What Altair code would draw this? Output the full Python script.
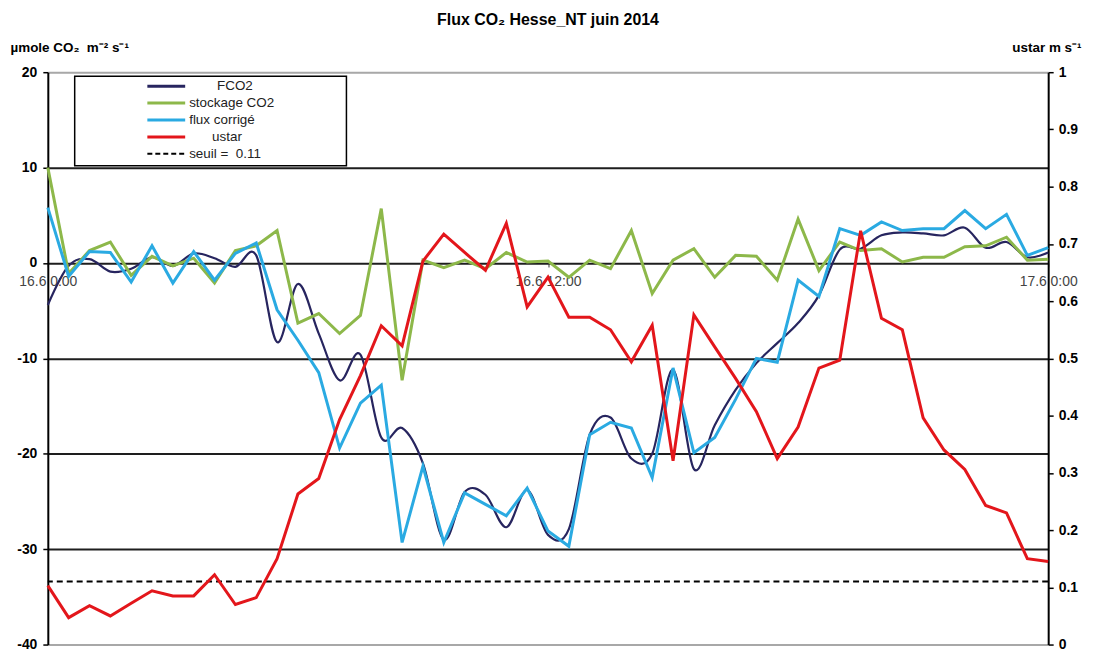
import altair as alt
import pandas as pd

# ---------------- data ----------------
hours = [i * 0.5 for i in range(49)]  # half-hourly steps from 16.6 0:00 to 17.6 0:00

fco2 = [-4.4, -0.3, 0.4, -0.9, -0.6, 0.6, -0.3, 1.0, 0.5, -0.4, 0.8,
        -8.3, -2.2, -7.4, -12.3, -9.6, -18.3, -17.3, -21.0, -29.0, -24.0,
        -24.3, -27.7, -23.8, -28.5, -27.9, -18.0, -16.2, -20.5, -20.0, -11.2,
        -21.6, -17.0, -13.3, -10.5, -8.4, -6.3, -3.4, 1.4, 1.5, 2.9,
        3.2, 3.1, 2.9, 3.7, 1.6, 2.2, 0.6, 1.1]

stockage = [10.0, -1.1, 1.3, 2.2, -1.3, 0.7, -0.3, 0.5, -2.1, 1.3, 1.8,
            3.4, -6.3, -5.3, -7.4, -5.5, 5.7, -12.3, 0.3, -0.5, 0.3,
            -0.6, 1.1, 0.1, 0.2, -1.5, 0.3, -0.6, 3.4, -3.2, 0.3,
            1.5, -1.5, 0.8, 0.7, -1.8, 4.6, -0.8, 2.2, 1.3, 1.5,
            0.1, 0.6, 0.6, 1.7, 1.8, 2.7, 0.3, 0.4]

flux_corrige = [5.8, -1.4, 1.2, 1.1, -2.0, 1.8, -2.1, 1.2, -1.8, 1.0, 2.1,
                -4.9, -8.1, -11.5, -19.4, -14.7, -12.8, -29.3, -21.3, -29.3, -24.1,
                -25.3, -26.5, -23.6, -28.1, -29.7, -18.0, -16.7, -17.3, -22.5, -11.0,
                -19.9, -18.3, -14.3, -10.0, -10.4, -1.8, -3.5, 3.6, 2.9, 4.3,
                3.4, 3.6, 3.6, 5.5, 3.6, 5.1, 0.8, 1.6]

ustar = [0.103, 0.047, 0.068, 0.050, 0.072, 0.094, 0.085, 0.085, 0.122, 0.070, 0.082,
         0.150, 0.263, 0.290, 0.393, 0.470, 0.557, 0.522, 0.670, 0.717, 0.685,
         0.654, 0.736, 0.590, 0.642, 0.572, 0.572, 0.550, 0.494, 0.558, 0.321,
         0.576, 0.520, 0.465, 0.407, 0.325, 0.380, 0.483, 0.497, 0.723, 0.570,
         0.550, 0.396, 0.340, 0.306, 0.243, 0.230, 0.150, 0.145]

seuil = 0.11

x_tick_values = [0, 12, 24]
x_tick_labels = ["16.6 0:00", "16.6 12:00", "17.6 0:00"]
left_ticks = [-40, -30, -20, -10, 0, 10, 20]
right_ticks = [0, 0.1, 0.2, 0.3, 0.4, 0.5, 0.6, 0.7, 0.8, 0.9, 1]

title_text = "Flux CO\u2082 Hesse_NT juin 2014"
left_title = "\u00b5mole CO\u2082 \u00a0m\u207b\u00b2 s\u207b\u00b9"
right_title = "ustar m s\u207b\u00b9"

legend_labels = ["FCO2", "stockage CO2", "flux corrigé", "ustar", "seuil = \u00a00.11"]

# ---------------- styles ----------------
FONT = "Liberation Sans"
C_FCO2 = "#27255f"
C_STOCK = "#8db84a"
C_FLUX = "#2aaae2"
C_USTAR = "#e3161b"
W, H = 1005, 575

df = pd.DataFrame({"h": hours, "fco2": fco2, "stockage": stockage,
                   "flux": flux_corrige, "ustar": ustar})

label_expr = " : ".join(
    f"datum.value == {v} ? '{t}'" for v, t in zip(x_tick_values, x_tick_labels)
) + " : ''"

x_axis = alt.Axis(values=x_tick_values, labelExpr=label_expr, title=None,
                  domain=False, offset=-(H * 40 / 60), tickSize=4, tickColor="#333",
                  labelFont=FONT, labelFontSize=14, labelColor="#444",
                  labelPadding=8, labelFlush=False, grid=False)
x_enc = alt.X("h:Q", scale=alt.Scale(domain=[0, 24], nice=False, zero=False), axis=x_axis)

yl_scale = alt.Scale(domain=[-40, 20], nice=False, zero=False)
yr_scale = alt.Scale(domain=[0, 1], nice=False, zero=False)

left_axis = alt.Axis(values=left_ticks, title=left_title, titleAngle=0,
                     labelExpr="toString(datum.value)",
                     titleAlign="left", titleBaseline="alphabetic",
                     titleX=-38, titleY=-21, titleFont=FONT, titleFontSize=13.5,
                     titleFontWeight="bold", titleColor="black",
                     labelFont=FONT, labelFontSize=14, labelFontWeight="bold",
                     labelColor="black", labelPadding=6, tickSize=5,
                     tickColor="black", tickWidth=1.5, domainColor="black",
                     domainWidth=2, grid=True,
                     gridColor=alt.condition("datum.value == 20 || datum.value == -40",
                                             alt.value("#a8a8a8"), alt.value("#1e1e1e")),
                     gridWidth=2, gridOpacity=1)

right_axis = alt.Axis(values=right_ticks, format=".1~f", orient="right",
                      title=right_title, titleAngle=0, titleAlign="right",
                      titleBaseline="alphabetic", titleX=33, titleY=-21,
                      titleFont=FONT, titleFontSize=13.5, titleFontWeight="bold",
                      titleColor="black", labelFont=FONT, labelFontSize=14,
                      labelFontWeight="bold", labelColor="black", labelPadding=5,
                      tickSize=5, tickColor="black", tickWidth=1.5,
                      domainColor="black", domainWidth=2, grid=False)

base = alt.Chart(df)

line_fco2 = base.mark_line(color=C_FCO2, strokeWidth=2.2, interpolate="cardinal").encode(
    x=x_enc, y=alt.Y("fco2:Q", scale=yl_scale, axis=left_axis))
line_stock = base.mark_line(color=C_STOCK, strokeWidth=3).encode(
    x=x_enc, y=alt.Y("stockage:Q", scale=yl_scale, axis=left_axis))
line_flux = base.mark_line(color=C_FLUX, strokeWidth=3).encode(
    x=x_enc, y=alt.Y("flux:Q", scale=yl_scale, axis=left_axis))

left = alt.layer(line_fco2, line_stock, line_flux)

thresh = alt.Chart(pd.DataFrame({"seuil": [seuil]})).mark_rule(
    color="black", strokeWidth=2, strokeDash=[6, 4]).encode(
    y=alt.Y("seuil:Q", scale=yr_scale, axis=right_axis))
line_ustar = base.mark_line(color=C_USTAR, strokeWidth=3).encode(
    x=x_enc, y=alt.Y("ustar:Q", scale=yr_scale, axis=right_axis))

right = alt.layer(thresh, line_ustar)

# ---------------- hand-drawn legend box (Excel style) ----------------
one = alt.Data(values=[{"a": 1}])
legend_layers = [
    alt.Chart(one).mark_rect(fill="white", stroke="black", strokeWidth=1.5).encode(
        x=alt.value(27), x2=alt.value(300), y=alt.value(4), y2=alt.value(94))
]
legend_colors = [C_FCO2, C_STOCK, C_FLUX, C_USTAR, "black"]
legend_rows_y = [14, 31, 48, 65, 82]
legend_text_x = [170, 142, 142, 165, 142]
for lab, col, yy, tx in zip(legend_labels, legend_colors, legend_rows_y, legend_text_x):
    dash = [5, 3] if col == "black" else [1, 0]
    legend_layers.append(
        alt.Chart(one).mark_rule(color=col, strokeWidth=3 if col != "black" else 2,
                                 strokeDash=dash).encode(
            x=alt.value(100), x2=alt.value(138), y=alt.value(yy)))
    legend_layers.append(
        alt.Chart(one).mark_text(text=lab, font=FONT, fontSize=13.5, color="#222",
                                 align="left", baseline="middle").encode(
            x=alt.value(tx), y=alt.value(yy)))

chart = alt.layer(left, right, *legend_layers).resolve_scale(y="independent").properties(
    width=W, height=H,
    title=alt.TitleParams(title_text, font=FONT, fontSize=16, fontWeight="bold",
                          anchor="middle", frame="group", offset=12, color="black"),
    autosize=alt.AutoSizeParams(type="none"),
    padding={"left": 40, "top": 63, "right": 40, "bottom": 8},
).configure_view(stroke=None).configure(background="white")

chart.save("out.html", embed_options={"renderer": "svg", "actions": False})
